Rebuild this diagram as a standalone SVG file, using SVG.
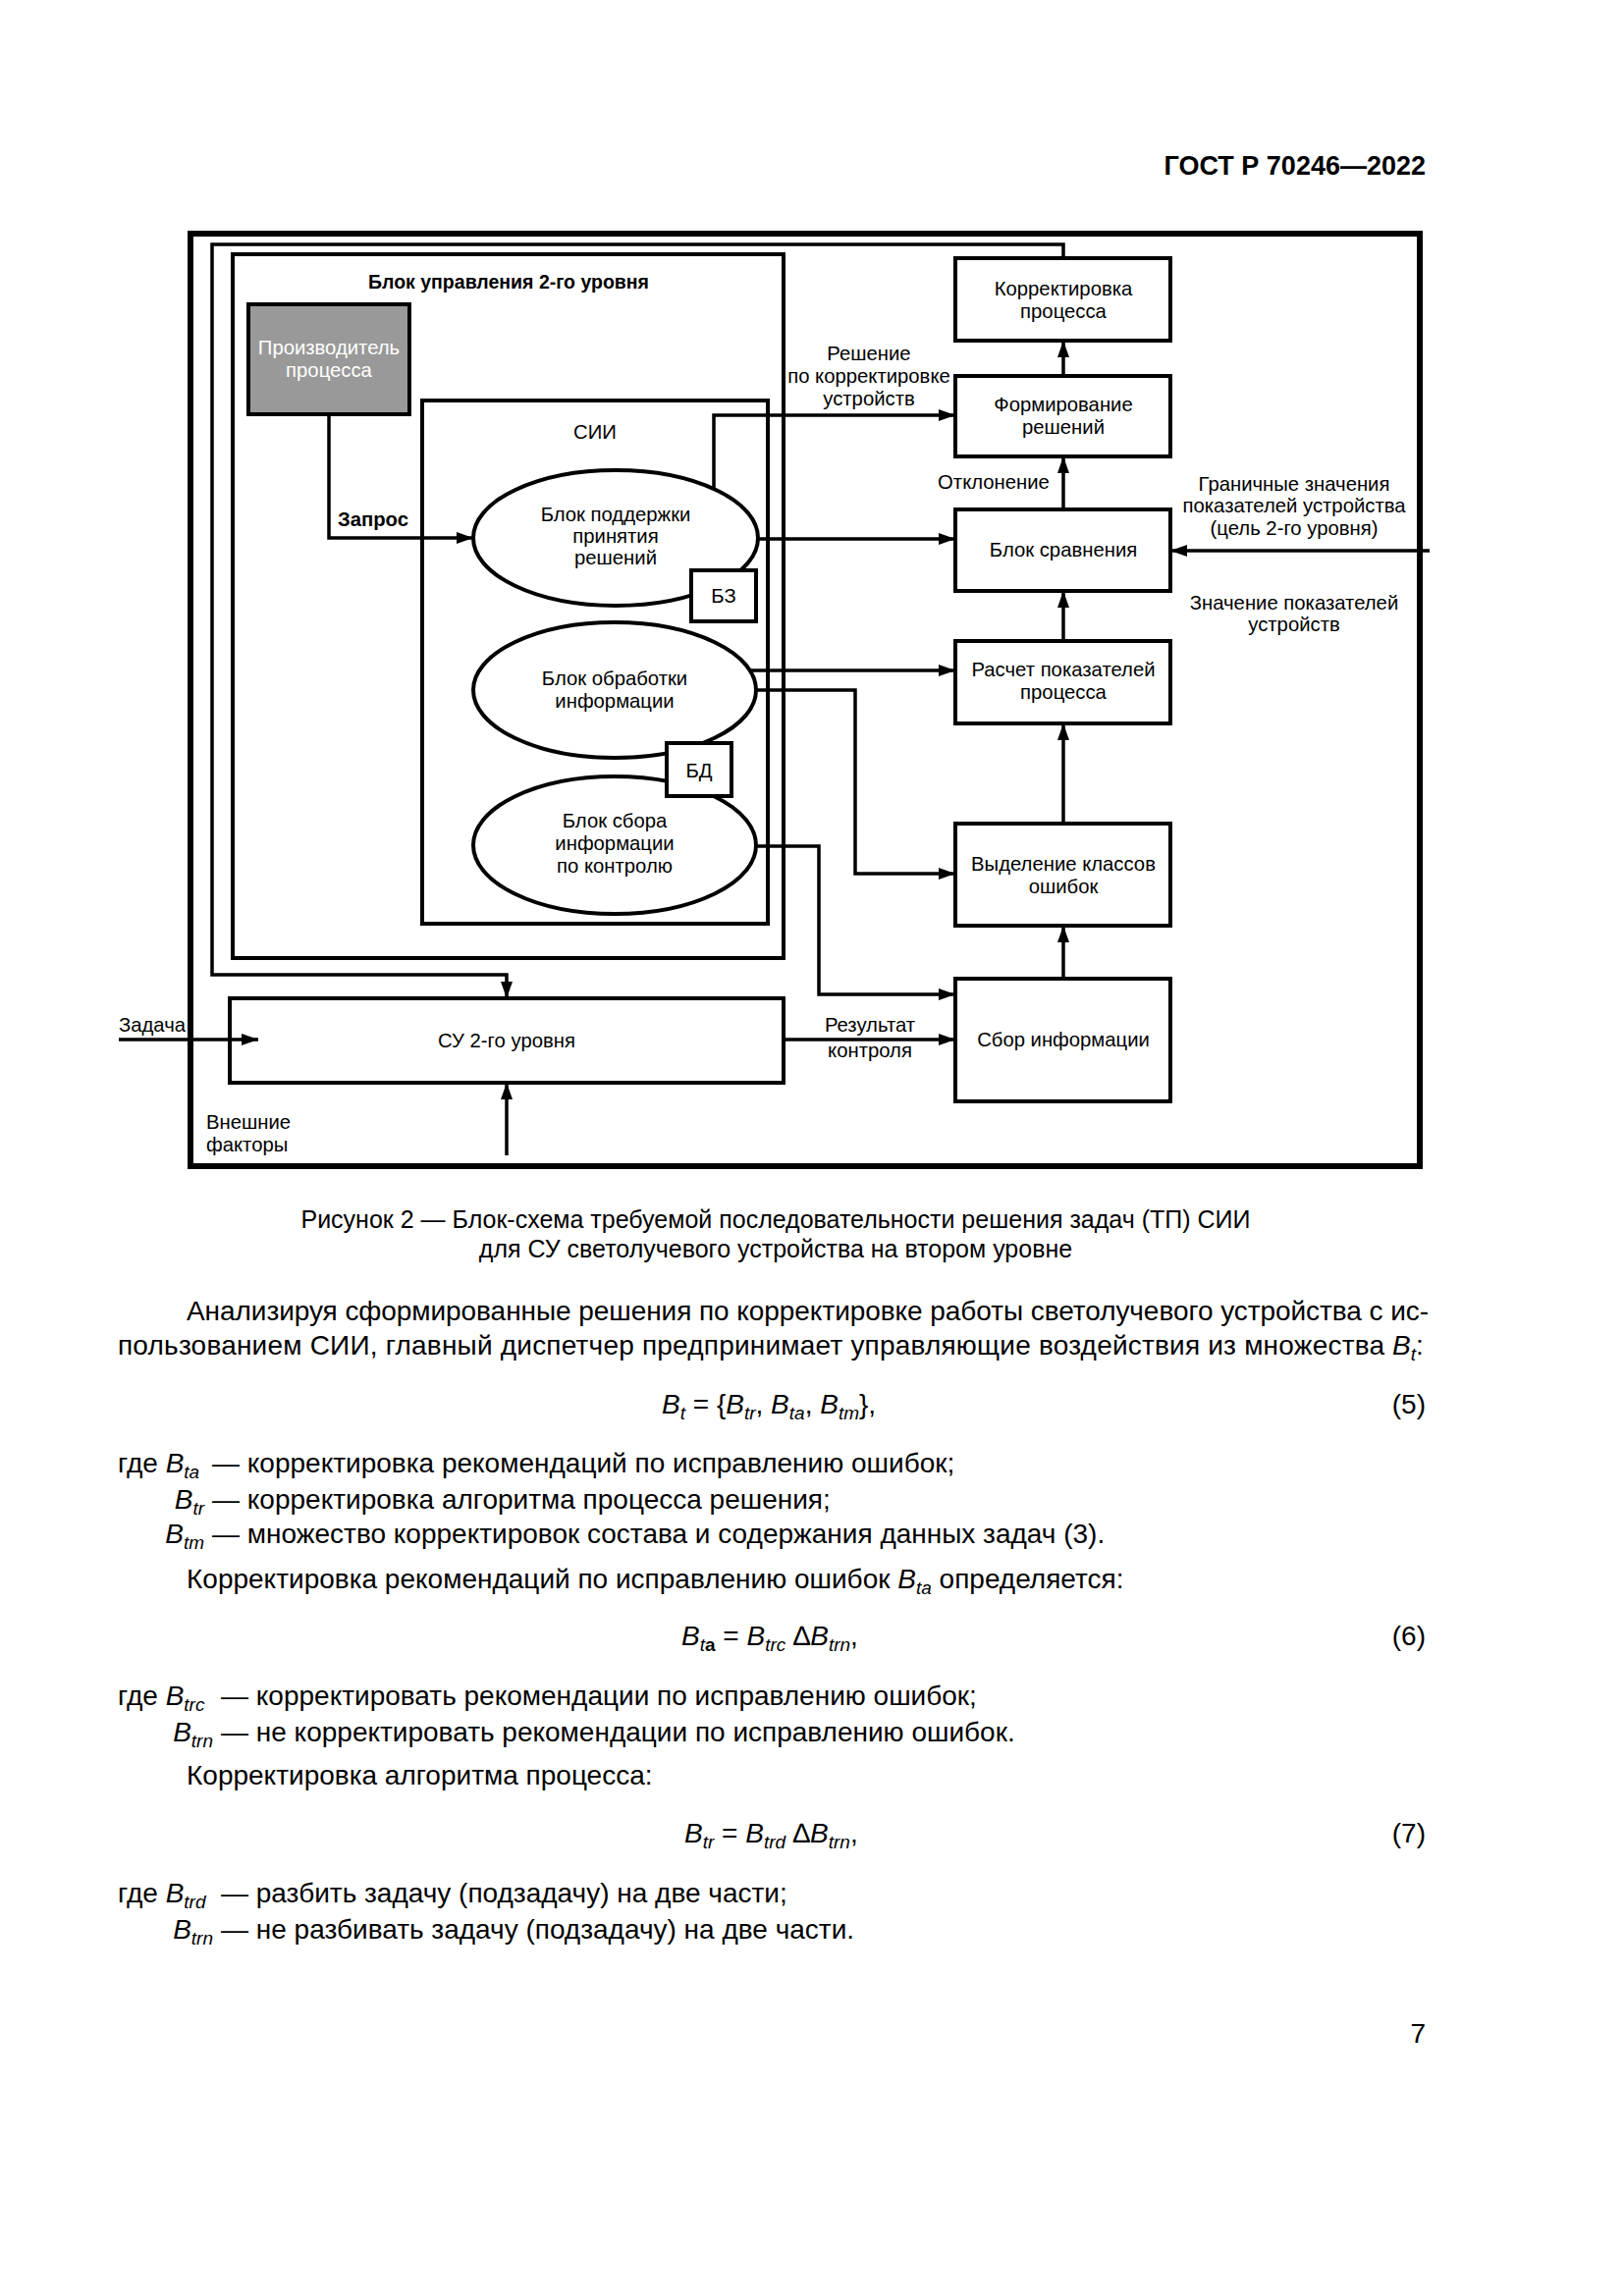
<svg xmlns="http://www.w3.org/2000/svg" width="1654" height="2339" viewBox="0 0 1654 2339">
<defs>
<marker id="ah" markerUnits="userSpaceOnUse" markerWidth="18" markerHeight="12" refX="17" refY="6" orient="auto"><path d="M0,0 L17,6 L0,12 z" fill="#000"/></marker>
<style>
text{font-family:"Liberation Sans",Arial,sans-serif;fill:#000}
.d{font-size:20.3px}
.m{text-anchor:middle}
.e{text-anchor:end}
.box{fill:#fff;stroke:#000;stroke-width:4}
.ln{fill:none;stroke:#000;stroke-width:3.5}
.a{marker-end:url(#ah)}
.p{font-size:28px}
.cap{font-size:25px}
.i{font-style:italic}
.s{font-size:19px;font-style:italic}
</style>
</defs>
<rect width="1654" height="2339" fill="#fff"/>
<text x="1452" y="178" class="e" style="font-size:27px;font-weight:bold">ГОСТ Р 70246—2022</text>

<rect x="194" y="238" width="1252" height="950" fill="none" stroke="#000" stroke-width="6"/>

<g id="block2">
<rect x="237" y="259" width="561" height="717" fill="none" stroke="#000" stroke-width="4"/>
<text x="518" y="294" class="d m" style="font-weight:bold;font-size:19.5px">Блок управления 2-го уровня</text>
</g>
<g id="producer">
<rect x="253" y="310" width="164" height="112" fill="#999" stroke="#000" stroke-width="4"/>
<text x="335" y="361" class="d m" style="fill:#fff">Производитель</text>
<text x="335" y="384" class="d m" style="fill:#fff">процесса</text>
</g>
<g id="sii">
<rect x="430" y="408" width="352" height="533" fill="none" stroke="#000" stroke-width="4"/>
<text x="606" y="447" class="d m">СИИ</text>
</g>
<g id="dss">
<ellipse cx="627" cy="548" rx="145" ry="69" class="box"/>
<text x="627" y="531" class="d m">Блок поддержки</text>
<text x="627" y="553" class="d m">принятия</text>
<text x="627" y="575" class="d m">решений</text>
</g>
<g id="bz">
<rect x="704" y="581" width="66" height="52" class="box"/>
<text x="737" y="614" class="d m">БЗ</text>
</g>
<g id="proc">
<ellipse cx="626" cy="703" rx="144" ry="69" class="box"/>
<text x="626" y="698" class="d m">Блок обработки</text>
<text x="626" y="721" class="d m">информации</text>
</g>
<g id="coll">
<ellipse cx="626" cy="861" rx="144" ry="70" class="box"/>
<text x="626" y="843" class="d m">Блок сбора</text>
<text x="626" y="866" class="d m">информации</text>
<text x="626" y="889" class="d m">по контролю</text>
</g>
<g id="bd">
<rect x="679" y="757" width="66" height="54" class="box"/>
<text x="712" y="792" class="d m">БД</text>
</g>
<g id="corr">
<rect x="973" y="263" width="219" height="84" class="box"/>
<text x="1083" y="301" class="d m">Корректировка</text>
<text x="1083" y="324" class="d m">процесса</text>
</g>
<g id="form">
<rect x="973" y="383" width="219" height="82" class="box"/>
<text x="1083" y="419" class="d m">Формирование</text>
<text x="1083" y="442" class="d m">решений</text>
</g>
<g id="cmp">
<rect x="973" y="519" width="219" height="83" class="box"/>
<text x="1083" y="567" class="d m">Блок сравнения</text>
</g>
<g id="calc">
<rect x="973" y="653" width="219" height="84" class="box"/>
<text x="1083" y="689" class="d m">Расчет показателей</text>
<text x="1083" y="712" class="d m">процесса</text>
</g>
<g id="sel">
<rect x="973" y="839" width="219" height="104" class="box"/>
<text x="1083" y="887" class="d m">Выделение классов</text>
<text x="1083" y="910" class="d m">ошибок</text>
</g>
<g id="gather">
<rect x="973" y="997" width="219" height="125" class="box"/>
<text x="1083" y="1066" class="d m">Сбор информации</text>
</g>
<g id="su">
<rect x="234" y="1017" width="564" height="86" class="box"/>
<text x="516" y="1067" class="d m">СУ 2-го уровня</text>
</g>

<g id="connectors">
<path class="ln a" d="M1083,263 V249 H216 V993 H516 V1017"/>
<path class="ln a" d="M335,422 V548 H482"/>
<path class="ln a" d="M727,497 V423 H973"/>
<path class="ln a" d="M772,549 H973"/>
<path class="ln a" d="M764,683 H973"/>
<path class="ln a" d="M770,703 H871 V890 H973"/>
<path class="ln a" d="M770,862 H834 V1013 H973"/>
<path class="ln a" d="M798,1059 H973"/>
<path class="ln a" d="M1083,997 V943"/>
<path class="ln a" d="M1083,839 V737"/>
<path class="ln a" d="M1083,653 V602"/>
<path class="ln a" d="M1083,519 V465"/>
<path class="ln a" d="M1083,383 V347"/>
<path class="ln a" d="M1456,561 H1192"/>
<path class="ln a" d="M121,1059 H263"/>
<path class="ln a" d="M516,1177 V1103"/>
</g>
<g id="labels">
<text x="380" y="536" class="d m" style="font-weight:bold">Запрос</text>
<text x="885" y="367" class="d m">Решение</text>
<text x="885" y="390" class="d m">по корректировке</text>
<text x="885" y="413" class="d m">устройств</text>
<text x="1012" y="498" class="d m">Отклонение</text>
<text x="1318" y="500" class="d m">Граничные значения</text>
<text x="1318" y="522" class="d m">показателей устройства</text>
<text x="1318" y="545" class="d m">(цель 2-го уровня)</text>
<text x="1318" y="621" class="d m">Значение показателей</text>
<text x="1318" y="643" class="d m">устройств</text>
<text x="886" y="1051" class="d m">Результат</text>
<text x="886" y="1077" class="d m">контроля</text>
<text x="121" y="1051" class="d">Задача</text>
<text x="210" y="1150" class="d">Внешние</text>
<text x="210" y="1173" class="d">факторы</text>
</g>

<g id="text">
<text x="790" y="1251" class="cap m">Рисунок 2 — Блок-схема требуемой последовательности решения задач (ТП) СИИ</text>
<text x="790" y="1281" class="cap m">для СУ светолучевого устройства на втором уровне</text>
<text x="190" y="1345" class="p" textLength="1265" lengthAdjust="spacing">Анализируя сформированные решения по корректировке работы светолучевого устройства с ис-</text>
<text x="120" y="1380" class="p" textLength="1290" lengthAdjust="spacing">пользованием СИИ, главный диспетчер предпринимает управляющие воздействия из множества</text>
<text x="1418" y="1380" class="p"><tspan class="i">B</tspan><tspan class="s" dy="6">t</tspan><tspan dy="-6">:</tspan></text>

<text x="674" y="1440" class="p"><tspan class="i">B</tspan><tspan class="s" dy="6">t</tspan><tspan dy="-6"> = {</tspan><tspan class="i">B</tspan><tspan class="s" dy="6">tr</tspan><tspan dy="-6">, </tspan><tspan class="i">B</tspan><tspan class="s" dy="6">ta</tspan><tspan dy="-6">, </tspan><tspan class="i">B</tspan><tspan class="s" dy="6">tm</tspan><tspan dy="-6">},</tspan></text>
<text x="1452" y="1440" class="p e">(5)</text>

<text x="120" y="1500" class="p">где <tspan class="i">B</tspan><tspan class="s" dy="6">ta</tspan></text>
<text x="216" y="1500" class="p">— корректировка рекомендаций по исправлению ошибок;</text>
<text x="208" y="1537" class="p e"><tspan class="i">B</tspan><tspan class="s" dy="6">tr</tspan></text>
<text x="216" y="1537" class="p">— корректировка алгоритма процесса решения;</text>
<text x="208" y="1572" class="p e"><tspan class="i">B</tspan><tspan class="s" dy="6">tm</tspan></text>
<text x="216" y="1572" class="p">— множество корректировок состава и содержания данных задач (3).</text>
<text x="190" y="1618" class="p">Корректировка рекомендаций по исправлению ошибок <tspan class="i">B</tspan><tspan class="s" dy="6">ta</tspan><tspan dy="-6"> определяется:</tspan></text>

<text x="694" y="1676" class="p"><tspan class="i">B</tspan><tspan class="s" dy="6">t</tspan><tspan style="font-size:19px;font-weight:bold">a</tspan><tspan dy="-6"> = </tspan><tspan class="i">B</tspan><tspan class="s" dy="6">trc</tspan><tspan dy="-6"> ∆</tspan><tspan class="i">B</tspan><tspan class="s" dy="6">trn</tspan><tspan dy="-6">,</tspan></text>
<text x="1452" y="1676" class="p e">(6)</text>

<text x="120" y="1737" class="p">где <tspan class="i">B</tspan><tspan class="s" dy="6">trc</tspan></text>
<text x="225" y="1737" class="p">— корректировать рекомендации по исправлению ошибок;</text>
<text x="217" y="1774" class="p e"><tspan class="i">B</tspan><tspan class="s" dy="6">trn</tspan></text>
<text x="225" y="1774" class="p">— не корректировать рекомендации по исправлению ошибок.</text>
<text x="190" y="1818" class="p">Корректировка алгоритма процесса:</text>

<text x="697" y="1877" class="p"><tspan class="i">B</tspan><tspan class="s" dy="6">tr</tspan><tspan dy="-6"> = </tspan><tspan class="i">B</tspan><tspan class="s" dy="6">trd</tspan><tspan dy="-6"> ∆</tspan><tspan class="i">B</tspan><tspan class="s" dy="6">trn</tspan><tspan dy="-6">,</tspan></text>
<text x="1452" y="1877" class="p e">(7)</text>

<text x="120" y="1938" class="p">где <tspan class="i">B</tspan><tspan class="s" dy="6">trd</tspan></text>
<text x="225" y="1938" class="p">— разбить задачу (подзадачу) на две части;</text>
<text x="217" y="1975" class="p e"><tspan class="i">B</tspan><tspan class="s" dy="6">trn</tspan></text>
<text x="225" y="1975" class="p">— не разбивать задачу (подзадачу) на две части.</text>

<text x="1452" y="2081" class="p e">7</text>
</g>
</svg>
